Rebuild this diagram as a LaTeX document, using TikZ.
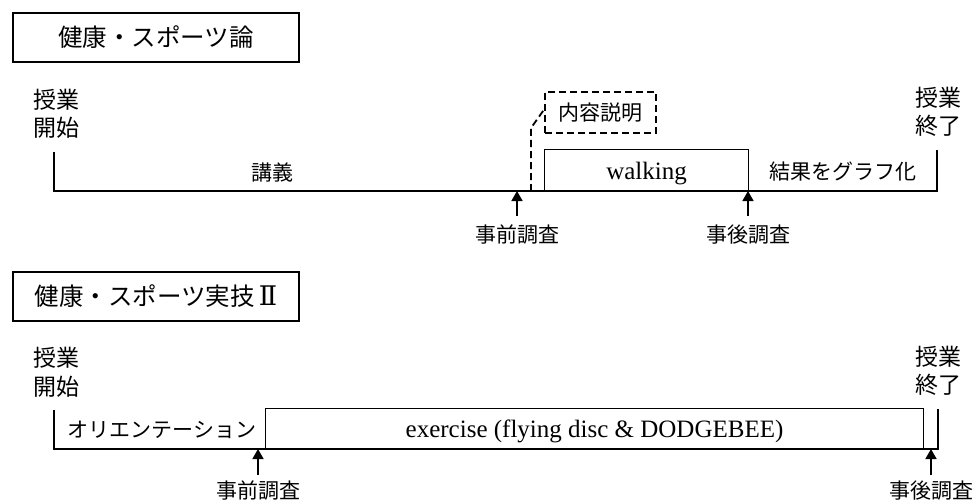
\documentclass[tikz,border=0pt]{standalone}
\usepackage{fontspec}
\setmainfont{Liberation Serif}
\newfontfamily\jp{Noto Sans CJK JP}
\newfontfamily\romnum{DejaVu Serif}
\usetikzlibrary{arrows.meta}
\begin{document}
\begin{tikzpicture}[x=1pt,y=-1pt,
  jlabel/.style={font=\jp\fontsize{21}{25}\selectfont, inner sep=0pt},
  jbig/.style={font=\jp\fontsize{23}{28.5}\selectfont, inner sep=0pt, align=left},
  titlebox/.style={draw, line width=1.3pt, font=\jp\fontsize{24.5}{28}\selectfont, minimum width=286pt, minimum height=49pt, inner sep=0pt},
  actbox/.style={draw, line width=1.1pt, font=\fontsize{25}{28}\selectfont, inner sep=0pt, anchor=south west, text height=19pt, text depth=0pt},
  descbox/.style={draw, line width=1.8pt, dash pattern=on 7pt off 4pt, font=\jp\fontsize{21}{25}\selectfont, minimum width=111pt, minimum height=41pt, inner sep=0pt},
  tl/.style={line width=1.8pt},
  dsh/.style={line width=1.8pt, dash pattern=on 7pt off 4pt},
  arr/.style={line width=1.6pt, -{Triangle[width=11pt,length=10pt]}}]
\useasboundingbox (0,0) rectangle (974,500);

% ---------- section 1 ----------
\node[titlebox] (t1) at (156,37.5) {健康・スポーツ論};
\node[jbig] (s1) at (56,114) {授業\\開始};
\node[jbig] (e1) at (938,112) {授業\\終了};
\coordinate (a0) at (54,152);
\coordinate (a1) at (54,191);
\coordinate (a2) at (937,191);
\coordinate (a3) at (937,150);
\draw[tl] (a0) -- (a1) -- (a2) -- (a3);
\node[jlabel] (lec) at (272,172) {講義};
\node[actbox, minimum width=204pt, minimum height=41pt] (walk) at (544,191) {walking};
\node[jlabel] (graph) at (843,172) {結果をグラフ化};
\node[descbox] (desc) at (600.5,112.5) {内容説明};
\coordinate (d0) at (531,191);
\draw[dsh] (d0) -- ++(0,-63) -- ([yshift=3pt]desc.west);
\node[jlabel] (pre1) at (517,235) {事前調査};
\node[jlabel] (post1) at (748,235) {事後調査};
\draw[arr] ([yshift=9pt]pre1.north) -- (pre1.north |- a1);
\draw[arr] ([yshift=9pt]post1.north) -- (post1.north |- a1);

% ---------- section 2 ----------
\node[titlebox] (t2) at (156,296.5) {健康・スポーツ実技\hspace{4pt}{\romnum\fontsize{27}{28}\selectfont Ⅱ}};
\node[jbig] (s2) at (56,372.5) {授業\\開始};
\node[jbig] (e2) at (938,371) {授業\\終了};
\coordinate (b0) at (54,410);
\coordinate (b1) at (54,449);
\coordinate (b2) at (938,449);
\coordinate (b3) at (938,409);
\draw[tl] (b0) -- (b1) -- (b2) -- (b3);
\node[jlabel] (ori) at (162,430) {オリエンテーション};
\node[actbox, minimum width=658pt, minimum height=40pt] (ex) at (265,449) {exercise (flying disc \& DODGEBEE)};
\node[jlabel] (pre2) at (258,491) {事前調査};
\node[jlabel] (post2) at (931,491) {事後調査};
\draw[arr] ([yshift=6pt]pre2.north) -- (pre2.north |- b1);
\draw[arr] ([yshift=6pt]post2.north) -- (post2.north |- b1);
\end{tikzpicture}
\end{document}
